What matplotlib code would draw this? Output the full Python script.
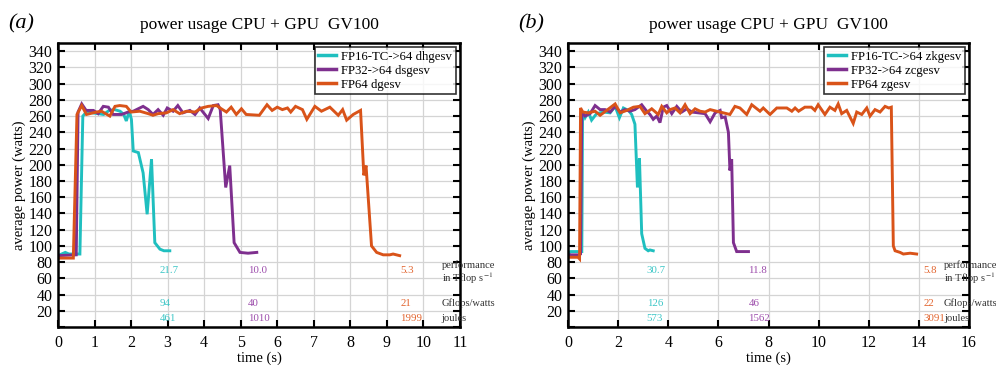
import matplotlib
matplotlib.use("Agg")
import matplotlib.pyplot as plt

plt.rcParams["font.family"] = ["Liberation Serif", "DejaVu Serif"]
plt.rcParams["mathtext.fontset"] = "stix"

# colours
CYAN = "#1fbfbf"
PURPLE = "#7e2f8e"
ORANGE = "#d95319"
TEXT_COLORS = ["#3cc6c6", "#9c4cab", "#e2642e"]

# ---- panel (a): real precision dgesv family, GV100 ----
cyan_a_t = [0, 0.1, 0.2, 0.3, 0.45, 0.6, 0.68, 0.8, 0.95, 1.1, 1.25, 1.4,
            1.55, 1.7, 1.8, 1.87, 1.95, 2.01, 2.06, 2.2, 2.33, 2.44, 2.56,
            2.65, 2.79, 2.9, 3.06]
cyan_a_v = [88, 90, 92, 90, 90, 90, 260, 266, 264, 263, 262, 267,
            268, 266, 262, 254, 266, 256, 217, 215, 190, 139, 207,
            104, 96, 94, 94]

purple_a_t = [0, 0.5, 0.55, 0.65, 0.77, 0.97, 1.1, 1.24, 1.38, 1.51, 1.74,
              1.92, 2.06, 2.33, 2.47, 2.6, 2.74, 2.88, 2.99, 3.15, 3.28,
              3.42, 3.61, 3.75, 3.88, 4.11, 4.25, 4.38, 4.44, 4.59, 4.7,
              4.82, 4.98, 5.2, 5.44]
purple_a_v = [88, 89, 265, 275, 267, 267, 263, 272, 271, 262, 262,
              265, 266, 272, 268, 262, 268, 261, 270, 266, 273,
              264, 267, 262, 270, 257, 273, 274, 268, 172, 199,
              104, 92, 91, 92]

orange_a_t = [0, 0.42, 0.52, 0.65, 0.78, 1.05, 1.19, 1.42, 1.56, 1.69, 1.87,
              2.0, 2.24, 2.47, 2.6, 2.74, 2.97, 3.15, 3.33, 3.52, 3.75,
              3.93, 4.11, 4.34, 4.47, 4.61, 4.74, 4.88, 5.02, 5.15, 5.51,
              5.72, 5.86, 6.0, 6.14, 6.28, 6.37, 6.5, 6.69, 6.81, 7.03,
              7.21, 7.44, 7.67, 7.79, 7.9, 8.08, 8.28, 8.37, 8.43, 8.58,
              8.72, 8.9, 9.08, 9.17, 9.35]
orange_a_v = [85, 85, 262, 273, 262, 265, 266, 260, 272, 273, 272,
              265, 266, 263, 261, 263, 264, 268, 263, 266, 265,
              270, 272, 273, 269, 265, 271, 262, 269, 262, 261,
              274, 267, 271, 268, 270, 265, 272, 268, 256, 272,
              266, 271, 261, 268, 255, 262, 267, 187, 199, 100,
              92, 89, 89, 90, 88]

labels_a = ["FP16-TC->64 dhgesv", "FP32->64 dsgesv", "FP64 dgesv"]
perf_a = ["21.7", "10.0", "5.3"]
gflops_watt_a = ["94", "40", "21"]
joules_a = ["461", "1010", "1999"]
text_x_a = [2.79, 5.2, 9.37]

# ---- panel (b): complex precision zgesv family, GV100 ----
cyan_b_t = [0, 0.1, 0.5, 0.55, 0.58, 0.68, 0.81, 0.94, 1.14, 1.41, 1.68,
            1.88, 2.05, 2.21, 2.41, 2.54, 2.67, 2.77, 2.85, 2.94, 3.07,
            3.2, 3.27, 3.4]
cyan_b_v = [90, 93, 93, 93, 265, 258, 265, 255, 263, 265, 264,
            272, 258, 270, 267, 262, 250, 172, 208, 115, 97,
            94, 95, 94]

purple_b_t = [0, 0.45, 0.5, 0.55, 0.68, 0.88, 1.08, 1.28, 1.48, 1.68, 1.88,
              2.08, 2.27, 2.47, 2.67, 2.94, 3.14, 3.27, 3.4, 3.54, 3.67,
              3.8, 3.94, 4.14, 4.34, 4.54, 4.74, 4.94, 5.2, 5.47, 5.67,
              5.87, 6.07, 6.13, 6.27, 6.4, 6.46, 6.53, 6.6, 6.73, 7.2]
purple_b_v = [89, 89, 90, 265, 260, 263, 273, 268, 268, 265, 272,
              265, 268, 266, 268, 274, 266, 262, 256, 260, 252,
              271, 273, 263, 272, 265, 269, 265, 264, 263, 253,
              264, 267, 258, 259, 240, 193, 207, 104, 93, 93]

orange_b_t = [0, 0.4, 0.46, 0.5, 0.59, 0.81, 1.08, 1.28, 1.54, 1.88, 2.08,
              2.34, 2.61, 2.87, 3.07, 3.34, 3.6, 3.74, 3.94, 4.07, 4.27,
              4.47, 4.67, 4.87, 5.07, 5.27, 5.47, 5.67, 5.93, 6.2, 6.46,
              6.66, 6.86, 7.13, 7.33, 7.66, 7.79, 8.06, 8.33, 8.73, 8.93,
              9.06, 9.2, 9.45, 9.71, 9.85, 9.98, 10.25, 10.45, 10.65, 10.78,
              10.92, 11.12, 11.38, 11.52, 11.72, 11.92, 12.05, 12.25, 12.45,
              12.65, 12.8, 12.9, 12.98, 13.05, 13.25, 13.38, 13.65, 13.91]
orange_b_v = [86, 86, 84, 270, 265, 264, 266, 261, 267, 275, 264,
              267, 271, 272, 263, 269, 262, 272, 264, 268, 270,
              264, 274, 263, 269, 266, 265, 268, 266, 264, 262,
              272, 270, 262, 274, 266, 270, 262, 270, 270, 266,
              270, 266, 271, 271, 267, 274, 262, 271, 267, 275,
              263, 267, 251, 265, 262, 270, 260, 268, 265,
              272, 270, 271, 100, 94, 92, 90, 91, 90]

labels_b = ["FP16-TC->64 zkgesv", "FP32->64 zcgesv", "FP64 zgesv"]
perf_b = ["30.7", "11.8", "5.8"]
gflops_watt_b = ["126", "46", "22"]
joules_b = ["573", "1562", "3091"]
text_x_b = [3.14, 7.2, 14.17]

row_labels = ["performance", "in Tflop s$^{-1}$", "Gflops/watts", "joules"]
row_label_y = [76, 60, 29, 10]
value_row_y = [70, 29, 10]


def draw_panel(axis, series, labels, perf, gflops, joules, text_x,
               x_max, row_label_x):
    colors = [CYAN, PURPLE, ORANGE]
    for (times, values), label, color in zip(series, labels, colors):
        axis.plot(times, values, color=color, linewidth=2.1, label=label,
                  solid_joinstyle="miter")

    for i in range(3):
        for row, texts in enumerate([perf, gflops, joules]):
            axis.text(text_x[i], value_row_y[row], texts[i],
                      color=TEXT_COLORS[i], fontsize=7.8,
                      ha="left", va="center")

    for text, y in zip(row_labels, row_label_y):
        axis.text(row_label_x, y, text, color="#333333", fontsize=7.6,
                  ha="left", va="center")

    axis.set_xlim(0, x_max)
    axis.set_ylim(0, 350)
    step = 1 if x_max <= 11 else 2
    axis.set_xticks(range(0, x_max + 1, step))
    axis.set_yticks(range(0, 341, 20))
    axis.set_yticklabels([""] + [str(v) for v in range(20, 341, 20)])
    axis.tick_params(direction="in", length=5, width=1.5,
                     top=True, right=True, labelsize=11.5, pad=4)
    axis.tick_params(axis="x", pad=6)
    for spine in axis.spines.values():
        spine.set_linewidth(1.8)
    axis.grid(color="#d4d4d4", linewidth=0.9)
    axis.set_axisbelow(True)

    axis.set_xlabel("time (s)", fontsize=10.5, labelpad=0)
    axis.set_ylabel("average power (watts)", fontsize=10.5, labelpad=2)
    axis.set_title("power usage CPU + GPU  GV100", fontsize=12.5, pad=10)

    legend = axis.legend(loc="upper right", fontsize=9.2, frameon=True,
                         fancybox=False, borderaxespad=0.3,
                         handlelength=1.4, labelspacing=0.15,
                         borderpad=0.3, handletextpad=0.4)
    legend.get_frame().set_edgecolor("black")
    legend.get_frame().set_linewidth(1.2)
    for handle in legend.get_lines():
        handle.set_linewidth(2.5)


def main():
    figure = plt.figure(figsize=(9.96, 3.65), dpi=100)
    axis_a = figure.add_axes([0.0582, 0.104, 0.4036, 0.778])
    axis_b = figure.add_axes([0.5703, 0.104, 0.4026, 0.778])

    draw_panel(
        axis_a,
        [(cyan_a_t, cyan_a_v), (purple_a_t, purple_a_v),
         (orange_a_t, orange_a_v)],
        labels_a, perf_a, gflops_watt_a, joules_a, text_x_a,
        11, 10.5,
    )
    draw_panel(
        axis_b,
        [(cyan_b_t, cyan_b_v), (purple_b_t, purple_b_v),
         (orange_b_t, orange_b_v)],
        labels_b, perf_b, gflops_watt_b, joules_b, text_x_b,
        16, 15.0,
    )

    figure.text(0.008, 0.935, "(a)", fontsize=16, style="italic",
                va="center", ha="left")
    figure.text(0.52, 0.935, "(b)", fontsize=16, style="italic",
                va="center", ha="left")

    figure.savefig("out.png", dpi=100)
    plt.close(figure)


if __name__ == "__main__":
    main()
